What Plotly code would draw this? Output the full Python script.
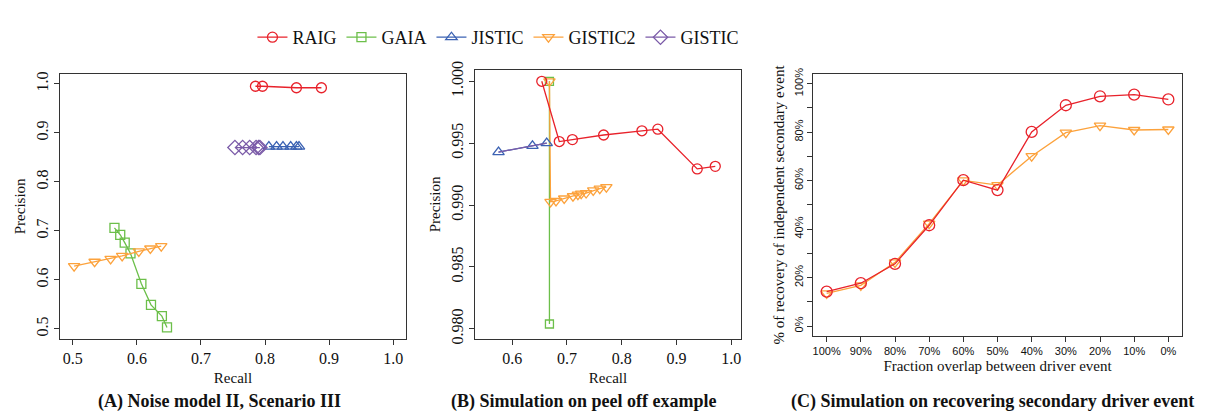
import plotly.graph_objects as go

# ---------------- data ----------------
# Panel A: Noise model II, Scenario III  (recall, precision)
a_raig_x = [0.785, 0.796, 0.849, 0.888]
a_raig_y = [0.995, 0.995, 0.992, 0.992]
a_gaia_x = [0.565, 0.574, 0.581, 0.590, 0.607, 0.622, 0.639, 0.647]
a_gaia_y = [0.706, 0.692, 0.676, 0.654, 0.592, 0.549, 0.526, 0.503]
a_jistic_x = [0.806, 0.818, 0.828, 0.840, 0.849, 0.853]
a_jistic_y = [0.872, 0.872, 0.872, 0.872, 0.872, 0.872]
a_gistic2_x = [0.502, 0.534, 0.559, 0.577, 0.603, 0.621, 0.638]
a_gistic2_y = [0.628, 0.637, 0.643, 0.649, 0.658, 0.664, 0.669]
a_gistic_x = [0.753, 0.765, 0.776, 0.786, 0.790, 0.792]
a_gistic_y = [0.870, 0.870, 0.870, 0.870, 0.870, 0.870]

# Panel B: Simulation on peel off example
b_raig_x = [0.654, 0.686, 0.710, 0.767, 0.837, 0.866, 0.938, 0.971]
b_raig_y = [1.0000, 0.99513, 0.99529, 0.99566, 0.99600, 0.99613, 0.99292, 0.99313]
b_gaia_x = [0.668, 0.668]
b_gaia_y = [1.0000, 0.98039]
b_jistic_x = [0.575, 0.637, 0.663]
b_jistic_y = [0.99428, 0.99478, 0.99500]
b_gistic_x = [0.575, 0.637, 0.663]
b_gistic_y = [0.99428, 0.99478, 0.99500]
b_gistic2_x = [0.668, 0.670, 0.680, 0.695, 0.711, 0.720, 0.726, 0.735, 0.748, 0.760, 0.772]
b_gistic2_y = [1.0000, 0.99026, 0.99034, 0.99053, 0.99071, 0.99084, 0.99092, 0.99097,
               0.99118, 0.99132, 0.99144]

# Panel C: Simulation on recovering secondary driver event
c_categories = ["100%", "90%", "80%", "70%", "60%", "50%", "40%", "30%", "20%", "10%", "0%"]
c_raig = [14.2, 17.7, 25.7, 41.6, 60.2, 56.1, 80.1, 91.1, 94.8, 95.5, 93.5]
c_gistic2 = [13.5, 16.8, 26.3, 42.3, 60.1, 58.2, 70.1, 79.8, 82.7, 80.9, 81.1]
c_yticks = [0, 10, 20, 30, 40, 50, 60, 70, 80, 90, 100]
c_yticklabels = ["0%", "", "20%", "", "40%", "", "60%", "", "80%", "", "100%"]

captions = ["(A) Noise model II, Scenario III",
            "(B) Simulation on peel off example",
            "(C) Simulation on recovering secondary driver event"]

# ---------------- style ----------------
RED = "#E8222B"
GREEN = "#6CBF4A"
BLUE = "#3B62B3"
ORANGE = "#FCA23C"
PURPLE = "#7B5BA8"
SERIF = "Liberation Serif, Times New Roman, Times, serif"
SANS = "Liberation Sans, Arial, Helvetica, sans-serif"

fig = go.Figure()


def add(x, y, name, color, symbol, xa, ya, show, size=10, mode="lines+markers"):
    fig.add_trace(go.Scatter(
        x=x, y=y, name=name, mode=mode, xaxis=xa, yaxis=ya,
        showlegend=show, legendgroup=name,
        line=dict(color=color, width=1.3),
        marker=dict(symbol=symbol, size=size, color=color,
                    line=dict(color=color, width=1.3)),
        cliponaxis=False,
    ))


# Panel A
add(a_raig_x, a_raig_y, "RAIG", RED, "circle-open", "x", "y", True)
add(a_gaia_x, a_gaia_y, "GAIA", GREEN, "square-open", "x", "y", True, size=9)
add(a_jistic_x, a_jistic_y, "JISTIC", BLUE, "triangle-up-open", "x", "y", True)
add(a_gistic2_x, a_gistic2_y, "GISTIC2", ORANGE, "triangle-down-open", "x", "y", True)
add(a_gistic_x, a_gistic_y, "GISTIC", PURPLE, "diamond-open", "x", "y", True, size=11)

# Panel B
add(b_gaia_x, b_gaia_y, "GAIA", GREEN, "square-open", "x2", "y2", False, size=8)
add(b_gistic2_x, b_gistic2_y, "GISTIC2", ORANGE, "triangle-down-open", "x2", "y2", False)
add(b_jistic_x, b_jistic_y, "JISTIC", BLUE, "triangle-up-open", "x2", "y2", False)
add(b_gistic_x, b_gistic_y, "GISTIC", PURPLE, "triangle-up-open", "x2", "y2", False, mode="lines")
add(b_raig_x, b_raig_y, "RAIG", RED, "circle-open", "x2", "y2", False)

# Panel C
add(c_categories, c_gistic2, "GISTIC2", ORANGE, "triangle-down-open", "x3", "y3", False)
add(c_categories, c_raig, "RAIG", RED, "circle-open", "x3", "y3", False, size=11)

W, H = 1214, 413


def dom(a, b, total):
    return [a / total, b / total]


axis_common = dict(showline=True, mirror=True, linecolor="#333", linewidth=1,
                   ticks="outside", ticklen=5, tickcolor="#333", showgrid=False,
                   zeroline=False)

serif_tick = dict(family=SERIF, size=16, color="#111")
sans_tick = dict(family=SANS, size=11, color="#111")
title_font = dict(family=SERIF, size=15, color="#111")

fig.update_layout(
    width=W, height=H,
    margin=dict(l=0, r=0, t=0, b=0),
    plot_bgcolor="white", paper_bgcolor="white",
    font=dict(family=SERIF, color="#111"),
    showlegend=True,
    legend=dict(orientation="h", x=0.404, xanchor="center", y=0.995, yanchor="top",
                font=dict(family=SERIF, size=18, color="#111"),
                itemwidth=30, traceorder="normal"),
    # Panel A
    xaxis=dict(domain=dom(52, 398, W), anchor="y", range=[0.48, 1.02],
               tickvals=[0.5, 0.6, 0.7, 0.8, 0.9, 1.0], tickformat=".1f",
               tickfont=serif_tick,
               title=dict(text="Recall", font=title_font, standoff=6), **axis_common),
    yaxis=dict(domain=[1 - 333 / H, 1 - 59 / H], anchor="x", range=[0.48, 1.02],
               tickvals=[0.5, 0.6, 0.7, 0.8, 0.9, 1.0], tickformat=".1f",
               tickangle=-90, tickfont=serif_tick,
               title=dict(text="Precision", font=title_font, standoff=4), **axis_common),
    # Panel B
    xaxis2=dict(domain=dom(467, 733, W), anchor="y2", range=[0.532, 1.018],
                tickvals=[0.6, 0.7, 0.8, 0.9, 1.0], tickformat=".1f",
                tickfont=serif_tick,
                title=dict(text="Recall", font=title_font, standoff=6), **axis_common),
    yaxis2=dict(domain=[1 - 333 / H, 1 - 55 / H], anchor="x2", range=[0.9792, 1.0009],
                tickvals=[0.980, 0.985, 0.990, 0.995, 1.000], tickformat=".3f",
                tickangle=-90, tickfont=serif_tick,
                title=dict(text="Precision", font=title_font, standoff=4), **axis_common),
    # Panel C
    xaxis3=dict(domain=dom(805, 1174, W), anchor="y3", type="category",
                categoryorder="array", categoryarray=c_categories,
                range=[-0.4, 10.4], tickfont=sans_tick,
                title=dict(text="Fraction overlap between driver event", font=title_font,
                           standoff=4), **axis_common),
    yaxis3=dict(domain=[1 - 330 / H, 1 - 59 / H], anchor="x3", range=[-4, 104],
                tickvals=c_yticks, ticktext=c_yticklabels,
                tickangle=-90, tickfont=sans_tick,
                title=dict(text="% of recovery of independent secondary event",
                           font=title_font, standoff=4), **axis_common),
)

cap_pos = [211, 576, 984]
for cx, text in zip(cap_pos, captions):
    fig.add_annotation(x=cx / W, y=1 - 398 / H, xref="paper", yref="paper",
                       text="<b>" + text + "</b>", showarrow=False,
                       font=dict(family=SERIF, size=18, color="#111"),
                       xanchor="center", yanchor="middle")

fig.write_html("out.html")
